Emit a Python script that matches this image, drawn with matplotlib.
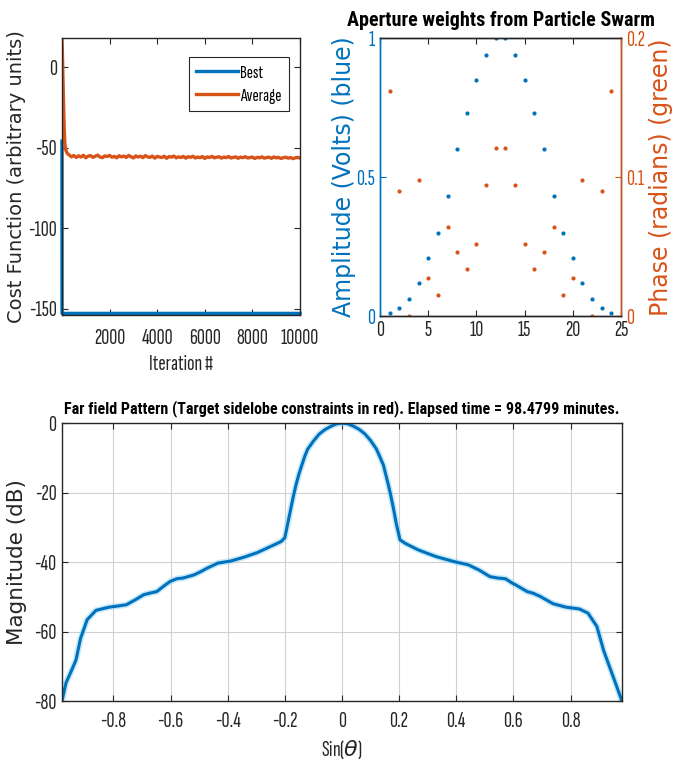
import matplotlib
matplotlib.use("Agg")
import matplotlib.pyplot as plt

plt.rcParams["axes.unicode_minus"] = False

# MATLAB default colours
BLUE = "#0072BD"
ORANGE = "#D95319"
AXC = "#262626"

NARROW = ["Sofia Sans Extra Condensed", "Roboto Condensed", "Liberation Sans"]
BOLD_NARROW = ["Roboto Condensed", "Archivo Narrow", "PT Sans Narrow",
               "Saira ExtraCondensed", "Liberation Sans"]
WIDE = ["DejaVu Sans"]

# Convergence history of the swarm
best_iter = [1, 2, 3, 4, 10000]
best_cost = [-46, -110, -148, -153, -153]

avg_head_iter = [1, 20, 40, 60, 80, 100, 120, 150, 200, 250]
avg_head_cost = [18, 8, -5, -18, -30, -40, -47, -51, -53, -54]
avg_tail_iter = list(range(300, 10001, 100))
avg_tail_cost = [
    -54.6, -55.8, -54.9, -56.2, -55.1, -55.9, -54.8, -56.4, -55.3, -55.0,
    -56.1, -55.4, -54.7, -55.9, -56.3, -55.2, -55.6, -54.9, -56.0, -55.5,
    -56.4, -55.1, -55.8, -55.3, -56.2, -54.9, -55.7, -56.5, -55.2, -55.9,
    -55.4, -56.3, -55.0, -55.8, -56.1, -55.3, -56.6, -55.5, -55.9, -56.2,
    -55.4, -56.7, -55.6, -56.0, -55.3, -56.4, -55.8, -56.2, -55.5, -56.6,
    -55.7, -56.1, -55.4, -56.5, -55.9, -56.3, -55.6, -56.8, -55.8, -56.2,
    -55.5, -56.4, -56.0, -55.7, -56.6, -55.9, -56.3, -55.6, -56.5, -56.1,
    -55.8, -56.7, -56.0, -56.3, -55.7, -56.5, -56.2, -55.9, -56.8, -56.1,
    -56.4, -55.8, -56.6, -56.2, -56.0, -56.7, -55.9, -56.4, -56.1, -56.8,
    -56.3, -56.0, -56.6, -56.2, -56.9, -56.4, -56.1, -56.6,
]

# Aperture weights per element
element = list(range(1, 25))
amplitude = [0.01, 0.03, 0.06, 0.12, 0.21, 0.30, 0.43, 0.60, 0.73, 0.85, 0.94, 1.0,
             1.0, 0.94, 0.85, 0.73, 0.60, 0.43, 0.30, 0.21, 0.12, 0.06, 0.03, 0.01]
phase = [0.162, 0.090, 0.0, 0.098, 0.027, 0.015, 0.064, 0.046, 0.034, 0.052, 0.094, 0.121,
         0.121, 0.094, 0.052, 0.034, 0.046, 0.064, 0.015, 0.027, 0.098, 0.0, 0.090, 0.162]

# Far field pattern
sin_theta = [
    -0.98, -0.966, -0.945, -0.931, -0.915, -0.892, -0.861, -0.816, -0.78, -0.755,
    -0.724, -0.694, -0.67, -0.648, -0.625, -0.602, -0.578, -0.556, -0.518, -0.495,
    -0.473, -0.434, -0.389, -0.343, -0.297, -0.252, -0.213, -0.20, -0.19, -0.18,
    -0.17, -0.16, -0.15, -0.14, -0.13, -0.12, -0.10, -0.08, -0.06, -0.04, -0.02, 0.0,
    0.02, 0.04, 0.06, 0.08, 0.10, 0.12, 0.13, 0.145, 0.16, 0.17, 0.18, 0.19, 0.203,
    0.221, 0.267, 0.328, 0.389, 0.442, 0.48, 0.518, 0.545, 0.572, 0.595, 0.617,
    0.648, 0.67, 0.694, 0.739, 0.785, 0.831, 0.861, 0.892, 0.916, 0.947, 0.98,
]
magnitude = [
    -80, -74.8, -70.9, -68.2, -62.0, -56.6, -53.9, -53.0, -52.6, -52.3,
    -50.9, -49.4, -48.9, -48.5, -47.0, -45.6, -44.8, -44.6, -43.7, -42.8,
    -41.8, -40.3, -39.7, -38.6, -37.3, -35.6, -34.1, -33.0, -29.0, -25.0,
    -21.0, -17.5, -14.5, -12.0, -9.5, -7.5, -5.2, -3.2, -1.9, -1.0, -0.25, 0.0,
    -0.2, -0.9, -1.8, -3.1, -5.0, -7.4, -9.2, -12.1, -17.0, -20.5, -24.5, -28.9, -33.6,
    -34.6, -36.5, -38.4, -39.8, -40.8, -42.3, -44.2, -44.6, -44.8, -46.0, -47.0,
    -48.5, -49.0, -49.9, -52.0, -53.0, -53.5, -54.7, -58.5, -65.5, -72.5, -80,
]


def matlab_style(ax, top=True, right=True, pad=3.5):
    ax.tick_params(direction="in", top=top, right=right, length=4,
                   colors=AXC, labelsize=16, pad=pad)
    for lbl in ax.get_xticklabels() + ax.get_yticklabels():
        lbl.set_family(NARROW)
    for s in ax.spines.values():
        s.set_color(AXC)
        s.set_linewidth(1.0)


fig = plt.figure(figsize=(6.84, 7.73), dpi=100)

# --- cost function ---
ax1 = fig.add_axes([0.0906, 0.5925, 0.348, 0.3583])
ax1.plot(best_iter, best_cost, color=BLUE, lw=2.4, label="Best", clip_on=False)
ax1.plot(avg_head_iter + avg_tail_iter, avg_head_cost + avg_tail_cost,
         color=ORANGE, lw=2.4, label="Average")
ax1.set_xlim(1, 10000)
ax1.set_ylim(-154, 18)
ax1.set_xticks([2000, 4000, 6000, 8000, 10000])
ax1.set_yticks([-150, -100, -50, 0])
matlab_style(ax1)
ax1.tick_params(axis="x", pad=10)
ax1.set_xlabel("Iteration #", family=NARROW, fontsize=16, color=AXC, labelpad=5)
ax1.set_ylabel("Cost Function (arbitrary units)", family=WIDE, fontsize=14,
               color=AXC, labelpad=2)
leg = ax1.legend(loc="upper right", bbox_to_anchor=(0.955, 0.93),
                 prop={"family": NARROW, "size": 13.5}, fancybox=False,
                 framealpha=1, edgecolor=AXC, handlelength=2.2,
                 borderpad=0.4, handletextpad=0.15, labelspacing=0.35,
                 borderaxespad=0)
leg.get_frame().set_linewidth(0.8)

# --- aperture weights ---
ax2 = fig.add_axes([0.5556, 0.5912, 0.3523, 0.3596])
ax2.plot(element, amplitude, ".", color=BLUE, ms=4)
ax2.set_xlim(0, 25)
ax2.set_ylim(0, 1)
ax2.set_xticks([0, 5, 10, 15, 20, 25])
ax2.set_yticks([0, 0.5, 1])
ax2.set_yticklabels(["0", "0.5", "1"])
matlab_style(ax2, right=False)
ax2.tick_params(axis="y", colors=BLUE)
ax2.spines["left"].set_color(BLUE)
ax2.set_ylabel("Amplitude (Volts) (blue)", family=WIDE, fontsize=17,
               color=BLUE, labelpad=0)
ax2.set_title("Aperture weights from Particle Swarm", family=BOLD_NARROW,
              fontsize=14.5, fontweight="bold", pad=9)

ax3 = ax2.twinx()
ax3.plot(element, phase, ".", color=ORANGE, ms=4)
ax3.set_ylim(0, 0.2)
ax3.set_yticks([0, 0.1, 0.2])
ax3.set_yticklabels(["0", "0.1", "0.2"])
matlab_style(ax3, top=False)
ax3.tick_params(axis="y", colors=ORANGE, left=False)
ax3.spines["right"].set_color(ORANGE)
ax3.spines["left"].set_color(BLUE)
ax3.set_ylabel("Phase (radians) (green)", family=WIDE, fontsize=17,
               color=ORANGE, labelpad=3)

# --- far field pattern ---
ax4 = fig.add_axes([0.0906, 0.0931, 0.8187, 0.3596])
ax4.plot(sin_theta, magnitude, color="#8fd3f5", lw=4.5, alpha=0.5,
         solid_capstyle="round")
ax4.plot(sin_theta, magnitude, color=BLUE, lw=2.2)
ax4.set_xlim(-0.98, 0.98)
ax4.set_ylim(-80, 0)
ax4.set_xticks([-0.8, -0.6, -0.4, -0.2, 0, 0.2, 0.4, 0.6, 0.8])
ax4.set_xticklabels(["-0.8", "-0.6", "-0.4", "-0.2", "0", "0.2", "0.4", "0.6", "0.8"])
ax4.set_yticks([-80, -60, -40, -20, 0])
ax4.grid(True, color="#d0d0d0", lw=0.8)
matlab_style(ax4, pad=4)
ax4.tick_params(axis="x", pad=8)
ax4.set_xlabel(r"Sin($\theta$)", family=NARROW, fontsize=16, color=AXC,
               labelpad=5)
ax4.set_ylabel("Magnitude (dB)", family=WIDE, fontsize=15.5, color=AXC,
               labelpad=5)
ax4.set_title("Far field Pattern (Target sidelobe constraints in red). "
              "Elapsed time = 98.4799 minutes.", family=BOLD_NARROW,
              fontsize=11.5, fontweight="bold", pad=7)

fig.savefig("out.png", dpi=100)
